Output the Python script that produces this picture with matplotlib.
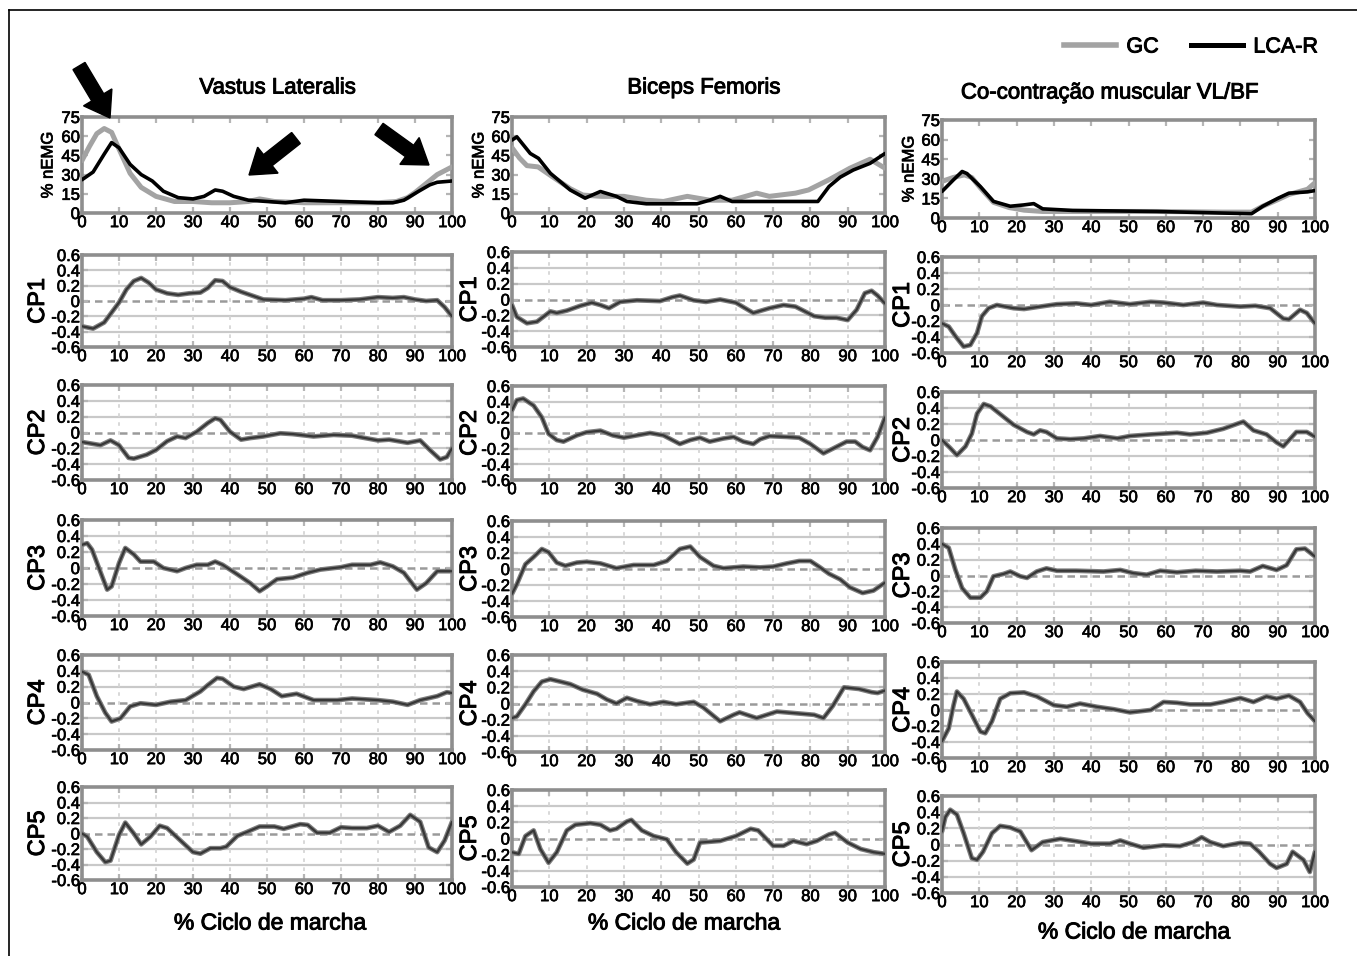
import matplotlib as mpl
mpl.use('agg')
import matplotlib.pyplot as plt
import matplotlib.patheffects as pe
from matplotlib.patches import FancyArrow
from matplotlib.lines import Line2D
from matplotlib.transforms import IdentityTransform

plt.rcParams['font.family'] = ['Liberation Sans', 'DejaVu Sans']

# ---------------- data ----------------
muscles = ['Vastus Lateralis', 'Biceps Femoris', 'Co-contração muscular VL/BF']
cp_names = ['CP1', 'CP2', 'CP3', 'CP4', 'CP5']
series = ['GC', 'LCA-R']

# % nEMG curves
vl_gc_x = [0, 2, 4, 6, 8, 10, 13, 16, 20, 25, 30, 35, 40, 45, 48, 52, 60, 70, 80, 85, 88, 90, 93, 96, 100]
vl_gc_y = [41, 52, 62, 66, 63, 50, 31, 20, 13, 9, 9, 8, 8, 9, 11, 9, 8, 8, 8, 9, 12, 16, 23, 30, 36]
vl_lca_x = [0, 3, 6, 8, 10, 13, 16, 19, 22, 26, 30, 33, 36, 38, 41, 45, 50, 55, 60, 70, 80, 84, 87, 91, 94, 96, 100]
vl_lca_y = [26, 32, 46, 55, 51, 38, 30, 25, 17, 12, 11, 13, 18, 17, 13, 10, 9, 8, 10, 9, 8, 8, 10, 17, 22, 24, 25]

bf_gc_x = [0, 2, 4, 7, 10, 15.6, 19, 24, 30, 36, 40.6, 47, 53, 59, 65.6, 69, 76, 79.5, 85, 90.6, 96, 100]
bf_gc_y = [51, 43, 37, 36, 30, 19, 14, 13, 13, 10, 9, 13, 10, 10, 15.5, 13, 15.5, 18, 26, 35, 42, 35]
bf_lca_x = [0, 1.3, 4.9, 7.1, 10.3, 15.6, 19.6, 23.7, 28, 30.8, 36, 49.6, 53, 55.8, 59, 69, 82, 85, 88, 91.5, 96, 100]
bf_lca_y = [57, 59.5, 46.5, 42.7, 31, 18, 11.6, 16.8, 13, 9, 7.2, 7.2, 10, 13, 9, 9, 9, 20.7, 28, 33.6, 38.8, 46.5]

cc_gc_x = [0, 3, 6, 8, 10.3, 13.8, 18, 22, 27, 35, 57.6, 75, 83, 86, 90, 93, 98, 100]
cc_gc_y = [28, 31, 33, 31, 23, 12, 8, 6, 5, 5, 5, 4.5, 4.5, 9, 14, 18, 22, 27]
cc_lca_x = [0, 3, 5.4, 6.7, 10.3, 13.8, 18.3, 21.9, 24.6, 27, 35, 57.6, 75, 83, 86, 90, 93, 98, 100]
cc_lca_y = [20.3, 29, 35.6, 34, 24, 12.7, 9, 10, 11, 7, 5.8, 5, 3.8, 3.3, 9, 15, 19, 20, 21]

# principal components (GC and LCA-R overlap at this resolution)
vl_cp1_x = [0, 3, 6, 8, 10, 12, 14, 16, 18, 20, 23, 26, 29, 32, 34, 36, 38, 40, 43, 46, 49, 55, 60, 62, 65, 70, 75, 80, 84, 87, 90, 93, 96, 98, 100]
vl_cp1_y = [-0.33, -0.36, -0.28, -0.15, -0.02, 0.15, 0.26, 0.3, 0.24, 0.15, 0.1, 0.08, 0.1, 0.11, 0.17, 0.27, 0.26, 0.18, 0.12, 0.07, 0.02, 0.01, 0.03, 0.05, 0.01, 0.01, 0.02, 0.05, 0.04, 0.05, 0.02, 0.0, 0.01, -0.08, -0.2]
vl_cp2_x = [0, 5, 7.7, 10, 12.6, 14, 17.5, 20, 23, 25.7, 28, 31, 34, 36, 37.4, 40, 43, 45.5, 49, 53.6, 57, 62.6, 68, 73, 80, 83, 88, 91.4, 94, 96.8, 98.6, 100]
vl_cp2_y = [-0.12, -0.16, -0.1, -0.16, -0.32, -0.33, -0.28, -0.22, -0.11, -0.05, -0.07, 0.01, 0.12, 0.18, 0.16, 0.01, -0.09, -0.07, -0.05, -0.01, -0.02, -0.05, -0.03, -0.04, -0.1, -0.09, -0.13, -0.1, -0.22, -0.34, -0.31, -0.2]
vl_cp3_x = [0, 1.4, 2.7, 5.4, 6.8, 8, 10, 11.7, 14, 15.8, 19.4, 22, 25.7, 28, 31, 34, 36, 38, 42, 45.5, 48, 50, 52.7, 57, 61, 64.4, 70, 73, 78, 80.6, 84, 87, 90.5, 93, 96, 100]
vl_cp3_y = [0.29, 0.31, 0.23, -0.1, -0.27, -0.23, 0.06, 0.25, 0.17, 0.08, 0.08, 0.0, -0.04, 0.0, 0.04, 0.04, 0.08, 0.04, -0.08, -0.19, -0.29, -0.23, -0.14, -0.12, -0.06, -0.02, 0.01, 0.04, 0.04, 0.07, 0.02, -0.06, -0.27, -0.19, -0.04, -0.04]
vl_cp4_x = [0, 1.8, 4, 6.3, 8, 10.4, 13, 15.8, 20, 24, 28, 32, 34, 36.5, 38, 41, 43.7, 48, 51, 54, 58, 62.6, 69, 73, 80, 84, 88, 91.4, 96, 98.6, 100]
vl_cp4_y = [0.39, 0.35, 0.08, -0.13, -0.24, -0.2, -0.05, -0.01, -0.03, 0.01, 0.03, 0.14, 0.22, 0.31, 0.3, 0.2, 0.17, 0.23, 0.17, 0.08, 0.11, 0.03, 0.03, 0.05, 0.03, 0.01, -0.03, 0.03, 0.08, 0.13, 0.12]
vl_cp5_x = [0, 1.4, 4, 6.3, 7.7, 10, 11.7, 14, 16, 18.5, 21, 23, 26.6, 30, 32, 34.7, 37.4, 39, 42, 44.6, 48, 52, 54.5, 59, 61, 63.5, 67, 70, 73, 77, 80, 83, 86, 88.7, 91.4, 93.7, 96, 98, 100]
vl_cp5_y = [0.0, -0.04, -0.24, -0.37, -0.35, -0.02, 0.14, 0.0, -0.14, -0.04, 0.1, 0.07, -0.09, -0.24, -0.26, -0.19, -0.19, -0.17, -0.03, 0.02, 0.09, 0.09, 0.06, 0.12, 0.11, 0.01, 0.01, 0.08, 0.07, 0.07, 0.1, 0.02, 0.1, 0.24, 0.15, -0.18, -0.24, -0.09, 0.15]

bf_cp1_x = [0, 1.3, 4, 6.7, 10.3, 12, 14.7, 18.3, 21.4, 23.7, 26, 29, 33.5, 39.7, 43, 45, 48.7, 52, 55.8, 60, 64.7, 69, 72.8, 76, 81, 84, 87, 90, 92.4, 94.6, 96.4, 98, 100]
bf_cp1_y = [-0.07, -0.22, -0.3, -0.28, -0.15, -0.17, -0.14, -0.08, -0.04, -0.07, -0.11, -0.03, -0.01, -0.02, 0.03, 0.05, -0.01, -0.03, 0.0, -0.04, -0.17, -0.11, -0.07, -0.09, -0.21, -0.23, -0.23, -0.26, -0.13, 0.08, 0.11, 0.05, -0.05]
bf_cp2_x = [0, 1.3, 3, 5.8, 8, 9.8, 12, 13.8, 17.4, 20, 23.7, 27, 30, 33.5, 37, 40.6, 45, 47.8, 50.4, 53, 56.7, 59.4, 62, 64.7, 66.5, 69, 73.7, 77, 80, 83.5, 86, 89.7, 92, 94, 96, 98, 100]
bf_cp2_y = [0.29, 0.42, 0.44, 0.35, 0.2, -0.01, -0.09, -0.11, -0.03, 0.01, 0.03, -0.03, -0.06, -0.03, 0.0, -0.03, -0.14, -0.09, -0.06, -0.11, -0.07, -0.05, -0.11, -0.14, -0.08, -0.04, -0.05, -0.06, -0.14, -0.26, -0.2, -0.11, -0.11, -0.18, -0.22, -0.05, 0.2]
bf_cp3_x = [0, 1.3, 3.6, 5.8, 8, 9.8, 12, 14.3, 17.4, 20, 23.7, 28, 32.6, 38, 41.5, 45, 47.8, 50.4, 54, 56.7, 62, 66.5, 70, 73.7, 77, 80, 82.6, 85, 88, 90.6, 94, 96.9, 100]
bf_cp3_y = [-0.31, -0.19, 0.06, 0.15, 0.25, 0.21, 0.08, 0.04, 0.08, 0.09, 0.07, 0.01, 0.05, 0.05, 0.1, 0.25, 0.28, 0.15, 0.04, 0.01, 0.03, 0.02, 0.03, 0.07, 0.1, 0.1, 0.02, -0.06, -0.13, -0.23, -0.3, -0.27, -0.17]
bf_cp4_x = [0, 1.3, 3.6, 5.8, 8, 10.3, 13, 15.6, 19, 22.8, 25.4, 28, 30.8, 33.5, 37, 40.6, 44, 48.7, 51.3, 55.8, 59.4, 61, 65.6, 71, 76, 81, 83.5, 86, 89, 93, 96.4, 98, 100]
bf_cp4_y = [-0.18, -0.16, -0.01, 0.15, 0.27, 0.3, 0.27, 0.24, 0.17, 0.12, 0.05, 0.0, 0.07, 0.03, -0.01, 0.02, -0.01, 0.02, -0.05, -0.22, -0.14, -0.11, -0.18, -0.1, -0.12, -0.14, -0.18, -0.03, 0.2, 0.18, 0.14, 0.13, 0.16]
bf_cp5_x = [0, 1.8, 3.6, 5.8, 7.6, 9.8, 12, 14.7, 17, 21, 23.7, 26.3, 28, 30.8, 32, 34.8, 38, 41.5, 44, 47, 48.7, 50.4, 55.8, 60, 64, 66, 70, 72.8, 75.4, 79, 81.7, 85, 86.6, 90, 93.5, 97, 100]
bf_cp5_y = [-0.17, -0.19, 0.03, 0.1, -0.13, -0.3, -0.17, 0.1, 0.17, 0.19, 0.17, 0.1, 0.12, 0.21, 0.23, 0.1, 0.03, -0.01, -0.17, -0.31, -0.26, -0.05, -0.03, 0.03, 0.12, 0.1, -0.09, -0.09, -0.03, -0.07, -0.03, 0.05, 0.07, -0.05, -0.13, -0.17, -0.19]

cc_cp1_x = [0, 1.8, 3.6, 5.8, 7.6, 9.4, 10.7, 12.5, 14.7, 19.2, 22, 26.3, 30.8, 36, 40, 45, 50.4, 56, 59.4, 64.7, 70, 73.7, 80, 84, 88, 91.5, 93, 96, 97.8, 100]
cc_cp1_y = [-0.23, -0.27, -0.39, -0.52, -0.5, -0.35, -0.14, -0.04, 0.0, -0.04, -0.05, -0.02, 0.01, 0.02, 0.0, 0.04, 0.01, 0.04, 0.03, 0.0, 0.03, 0.0, -0.02, -0.01, -0.04, -0.17, -0.18, -0.06, -0.1, -0.23]
cc_cp2_x = [0, 2.2, 4, 6.3, 8, 9.4, 11.2, 13, 16.5, 19.2, 22.8, 24.6, 26.3, 28, 30.8, 34.4, 38, 42.4, 47, 50.4, 56, 63, 66.5, 71, 75.4, 80.8, 83.5, 87, 89.7, 91.5, 95, 97.8, 100]
cc_cp2_y = [0.0, -0.1, -0.19, -0.08, 0.08, 0.33, 0.45, 0.42, 0.29, 0.19, 0.1, 0.07, 0.12, 0.1, 0.02, 0.01, 0.02, 0.05, 0.02, 0.05, 0.07, 0.09, 0.07, 0.09, 0.14, 0.23, 0.12, 0.07, -0.03, -0.08, 0.1, 0.1, 0.04]
cc_cp3_x = [0, 1.8, 3.6, 5.4, 7.6, 10.3, 12, 13.8, 16.5, 18.3, 21, 22.8, 25.4, 28, 30.8, 36, 43.3, 47.8, 51.3, 54.9, 58.5, 63, 68, 73.7, 80, 82.6, 86, 89.7, 92.4, 95, 97.3, 100]
cc_cp3_y = [0.4, 0.35, 0.07, -0.16, -0.28, -0.28, -0.2, -0.01, 0.02, 0.05, -0.01, -0.03, 0.05, 0.09, 0.06, 0.06, 0.05, 0.07, 0.03, 0.01, 0.06, 0.04, 0.06, 0.05, 0.06, 0.05, 0.12, 0.07, 0.13, 0.33, 0.34, 0.24]
cc_cp4_x = [0, 1.8, 3.1, 4, 5.8, 8, 10.3, 11.6, 13.4, 15.6, 18.3, 22, 25.4, 30, 33.5, 37, 41.5, 46, 50.4, 56, 59.4, 63, 66.5, 72, 75.4, 80, 83.5, 87, 89.7, 93, 96, 98, 100]
cc_cp4_y = [-0.39, -0.23, 0.06, 0.23, 0.14, -0.06, -0.27, -0.29, -0.14, 0.14, 0.21, 0.22, 0.17, 0.06, 0.04, 0.08, 0.04, 0.01, -0.03, 0.0, 0.1, 0.09, 0.07, 0.07, 0.1, 0.15, 0.1, 0.17, 0.14, 0.18, 0.1, -0.04, -0.14]
cc_cp5_x = [0, 0.9, 2.2, 4, 5.8, 8, 9.4, 11, 13.4, 15.6, 18.3, 21, 24, 27, 31.7, 36, 40, 45, 47.8, 50.4, 54, 59.4, 63.8, 67.4, 69.6, 71.9, 75.4, 80, 82.6, 85, 88, 89.7, 92.4, 94, 96.9, 98.6, 100]
cc_cp5_y = [0.16, 0.34, 0.43, 0.37, 0.14, -0.17, -0.19, -0.09, 0.14, 0.23, 0.21, 0.16, -0.07, 0.03, 0.07, 0.04, 0.01, 0.01, 0.05, 0.01, -0.04, -0.01, -0.02, 0.03, 0.09, 0.03, -0.02, 0.02, 0.01, -0.09, -0.24, -0.29, -0.24, -0.09, -0.19, -0.34, -0.09]

emg_data = [[(vl_gc_x, vl_gc_y), (vl_lca_x, vl_lca_y)],
            [(bf_gc_x, bf_gc_y), (bf_lca_x, bf_lca_y)],
            [(cc_gc_x, cc_gc_y), (cc_lca_x, cc_lca_y)]]
cp_data = [[(vl_cp1_x, vl_cp1_y), (vl_cp2_x, vl_cp2_y), (vl_cp3_x, vl_cp3_y), (vl_cp4_x, vl_cp4_y), (vl_cp5_x, vl_cp5_y)],
           [(bf_cp1_x, bf_cp1_y), (bf_cp2_x, bf_cp2_y), (bf_cp3_x, bf_cp3_y), (bf_cp4_x, bf_cp4_y), (bf_cp5_x, bf_cp5_y)],
           [(cc_cp1_x, cc_cp1_y), (cc_cp2_x, cc_cp2_y), (cc_cp3_x, cc_cp3_y), (cc_cp4_x, cc_cp4_y), (cc_cp5_x, cc_cp5_y)]]

emg_ticks = [0, 15, 30, 45, 60, 75]
cp_ticks = [-0.6, -0.4, -0.2, 0, 0.2, 0.4, 0.6]
cp_ticklabels = ['-0.6', '-0.4', '-0.2', '0', '0.2', '0.4', '0.6']
x_ticks = list(range(0, 101, 10))

# ---------------- layout (pixels) ----------------
W, H = 1357, 956
fig = plt.figure(figsize=(W / 100, H / 100), dpi=100)

col_x = [(82, 452), (512, 885), (942, 1315)]
row_tb = [[(117, 213), (255, 347), (385, 480), (520, 616), (655, 750), (787, 880)],
          [(117, 213), (252, 347), (386, 480), (521, 617), (655, 752), (790, 887)],
          [(120, 218), (257, 353), (392, 488), (528, 623), (662, 758), (796, 893)]]
title_xy = [(278, 88), (704, 88), (1110, 93)]
xlabel_xy = [(270, 923), (684, 923), (1134, 932)]
ylab_x = [(48, 38), (479, 470), (909, 903)]

GRID = '#c9c9c9'
SPINE = '#8e8e8e'
heavy = [pe.withStroke(linewidth=0.7, foreground='black')]
heavy_small = [pe.withStroke(linewidth=0.5, foreground='black')]


def box(l, t, r, b):
    return [l / W, 1 - b / H, (r - l) / W, (b - t) / H]


def style(ax, cp):
    ax.set_xlim(0, 100)
    ax.set_xticks(x_ticks)
    ax.set_xticklabels([str(v) for v in x_ticks])
    if cp:
        ax.set_ylim(-0.6, 0.6)
        ax.set_yticks(cp_ticks)
        ax.set_yticklabels(cp_ticklabels)
        for v in [-0.4, -0.2, 0.2, 0.4]:
            ax.axhline(v, color=GRID, lw=1.6, zorder=0)
        ax.axhline(0, color='#9a9a9a', lw=1.8, ls=(0, (3, 2)), zorder=1)
        for v in x_ticks[1:-1]:
            ax.axvline(v, color='#d6d6d6', lw=1.3, ls=(0, (2, 3)), zorder=0)
    else:
        ax.set_ylim(0, 75)
        ax.set_yticks(emg_ticks)
    for s in ax.spines.values():
        s.set_color(SPINE)
        s.set_linewidth(2.6)
    ax.tick_params(direction='in', length=4, width=1.6, color='#b5b5b5',
                   top=True, right=True, labelsize=12, pad=1.5, labelcolor='black')
    for lab in ax.get_xticklabels() + ax.get_yticklabels():
        lab.set_path_effects(heavy_small)


for c in range(3):
    l, r = col_x[c]
    # % nEMG panel
    t, b = row_tb[c][0]
    ax = fig.add_axes(box(l, t, r, b))
    style(ax, False)
    (gx, gy), (kx, ky) = emg_data[c]
    ax.plot(gx, gy, color='#a3a3a3', lw=3.6, label=series[0], zorder=3,
            solid_joinstyle='round', solid_capstyle='round')
    ax.plot(kx, ky, color='black', lw=2.6, label=series[1], zorder=4,
            solid_joinstyle='round', solid_capstyle='round')
    fig.text(ylab_x[c][0] / W, 1 - (t + b) / 2 / H, '% nEMG', rotation=90,
             ha='center', va='center', fontsize=12, path_effects=heavy_small)
    fig.text(title_xy[c][0] / W, 1 - title_xy[c][1] / H, muscles[c],
             ha='center', va='center', fontsize=16, path_effects=heavy)
    # CP panels
    for k in range(5):
        t, b = row_tb[c][k + 1]
        ax = fig.add_axes(box(l, t, r, b))
        style(ax, True)
        x, y = cp_data[c][k]
        ax.plot(x, y, color='#7d7d7d', lw=3.4, zorder=3,
                solid_joinstyle='round', solid_capstyle='round')
        ax.plot(x, y, color='#2b2b2b', lw=1.6, alpha=0.85, zorder=4,
                solid_joinstyle='round', solid_capstyle='round')
        fig.text(ylab_x[c][1] / W, 1 - (t + b) / 2 / H, cp_names[k], rotation=90,
                 ha='center', va='center', fontsize=17, path_effects=heavy)
    fig.text(xlabel_xy[c][0] / W, 1 - xlabel_xy[c][1] / H, '% Ciclo de marcha',
             ha='center', va='center', fontsize=16.5, path_effects=heavy)

# legend
handles = [Line2D([], [], color='#a3a3a3', lw=4), Line2D([], [], color='black', lw=3.6)]
leg = fig.legend(handles, series, loc='center right', bbox_to_anchor=(1318 / W, 1 - 47 / H),
                 ncol=2, frameon=False, fontsize=15.5, handlelength=2.4, handletextpad=0.5,
                 columnspacing=1.5, borderaxespad=0, borderpad=0)
for txt in leg.get_texts():
    txt.set_path_effects(heavy)

# arrows in pixel coordinates
arrows = [((79, 66), (110, 118)), ((296, 138), (249, 175)), ((379, 129), (429, 165))]
for (x0, y0), (x1, y1) in arrows:
    fig.add_artist(FancyArrow(x0, H - y0, x1 - x0, y0 - y1, width=14, head_width=33,
                              head_length=24, length_includes_head=True,
                              color='black', transform=IdentityTransform()))

# outer frame (top and left)
fig.add_artist(Line2D([9, W], [H - 10, H - 10], color='black', lw=1.2, transform=IdentityTransform()))
fig.add_artist(Line2D([9, 9], [0, H - 10], color='black', lw=1.2, transform=IdentityTransform()))

fig.savefig('out.png', dpi=100)
